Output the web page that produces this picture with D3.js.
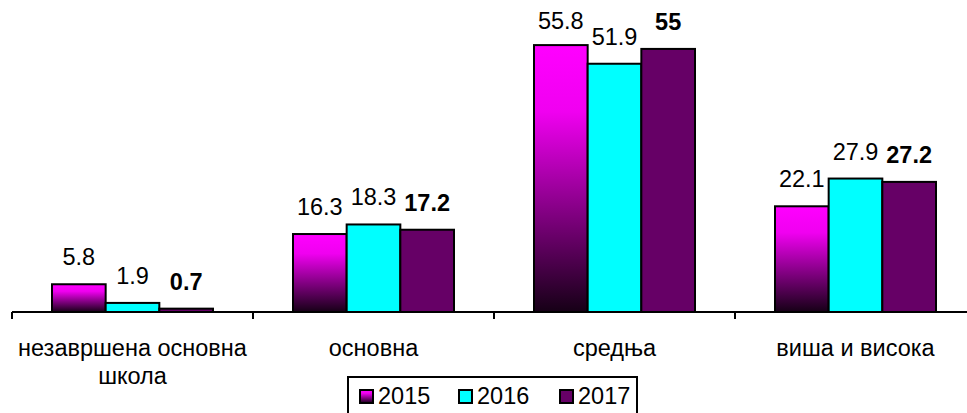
<!DOCTYPE html>
<html>
<head>
<meta charset="utf-8">
<script src="https://cdn.jsdelivr.net/npm/d3@7"></script>
<style>
  html, body { margin: 0; padding: 0; background: #fff; }
  text { font-family: Arial, "Liberation Sans", sans-serif; }
</style>
</head>
<body>
<svg id="chart" width="967" height="413"></svg>
<script>
// податоци
const categories = ['незавршена основна школа', 'основна', 'средња', 'виша и висока'];
const years = ['2015', '2016', '2017'];
const values2015 = [5.8, 16.3, 55.8, 22.1];
const values2016 = [1.9, 18.3, 51.9, 27.9];
const values2017 = [0.7, 17.2, 55, 27.2];

const series = [values2015, values2016, values2017];
const fills = ['url(#grad2015)', '#00ffff', '#660066'];

const svg = d3.select('#chart');
const width = 967, height = 413;
const baseY = 312;
const fontSize = 23.5;

// градиент за 2015
const defs = svg.append('defs');
const grad = defs.append('linearGradient')
    .attr('id', 'grad2015')
    .attr('x1', 0).attr('y1', 0).attr('x2', 0).attr('y2', 1);
grad.append('stop').attr('offset', '0%').attr('stop-color', '#ff00ff');
grad.append('stop').attr('offset', '25%').attr('stop-color', '#f000f0');
grad.append('stop').attr('offset', '100%').attr('stop-color', '#160016');

const x0 = d3.scaleBand()
    .domain(categories)
    .range([12, 976]);

const groupWidth = 161;
const x1 = d3.scaleBand()
    .domain(d3.range(years.length))
    .range([0, groupWidth]);

const y = d3.scaleLinear()
    .domain([0, 60])
    .range([baseY, 25]);

// столбови
const groups = svg.append('g')
    .selectAll('g')
    .data(categories)
    .enter().append('g')
    .attr('transform', d => `translate(${x0(d) + (x0.bandwidth() - groupWidth) / 2},0)`);

groups.selectAll('rect')
    .data((d, i) => series.map((s, j) => ({ v: s[i], j })))
    .enter().append('rect')
    .attr('x', d => x1(d.j))
    .attr('y', d => y(d.v))
    .attr('width', x1.bandwidth())
    .attr('height', d => baseY - y(d.v))
    .attr('fill', d => fills[d.j])
    .attr('stroke', '#000')
    .attr('stroke-width', 2);

groups.selectAll('text.lbl')
    .data((d, i) => series.map((s, j) => ({ v: s[i], j })))
    .enter().append('text')
    .attr('class', 'lbl')
    .attr('x', d => x1(d.j) + x1.bandwidth() / 2)
    .attr('y', d => Math.max(y(d.v) - 19, 29))
    .attr('text-anchor', 'middle')
    .attr('font-size', fontSize)
    .attr('font-weight', d => d.j === 2 ? 'bold' : 'normal')
    .attr('fill', '#000')
    .text(d => d.v);

// x оска
svg.append('line')
    .attr('x1', 12).attr('x2', width)
    .attr('y1', baseY).attr('y2', baseY)
    .attr('stroke', '#000').attr('stroke-width', 2);

svg.append('g')
    .selectAll('line')
    .data(categories)
    .enter().append('line')
    .attr('x1', d => x0(d)).attr('x2', d => x0(d))
    .attr('y1', baseY).attr('y2', baseY + 7)
    .attr('stroke', '#000').attr('stroke-width', 2);

// натписи на категории
const catLines = [['незавршена основна', 'школа'], ['основна'], ['средња'], ['виша и висока']];
svg.append('g')
    .selectAll('text')
    .data(categories)
    .enter().append('text')
    .attr('x', d => x0(d) + x0.bandwidth() / 2)
    .attr('y', 356)
    .attr('text-anchor', 'middle')
    .attr('font-size', fontSize)
    .attr('fill', '#000')
    .each(function(d, i) {
        d3.select(this).selectAll('tspan')
            .data(catLines[i])
            .enter().append('tspan')
            .attr('x', x0(d) + x0.bandwidth() / 2)
            .attr('dy', (t, k) => k === 0 ? 0 : 28)
            .text(t => t);
    });

// легенда
const legend = svg.append('g');
legend.append('rect')
    .attr('x', 348).attr('y', 377)
    .attr('width', 289).attr('height', 44)
    .attr('fill', '#fff')
    .attr('stroke', '#000').attr('stroke-width', 2);

const legendX = [360, 459, 560];
const item = legend.selectAll('g')
    .data(years)
    .enter().append('g')
    .attr('transform', (d, i) => `translate(${legendX[i]},0)`);

item.append('rect')
    .attr('x', 0).attr('y', 390)
    .attr('width', 13).attr('height', 13)
    .attr('fill', (d, i) => fills[i])
    .attr('stroke', '#000').attr('stroke-width', 2);

item.append('text')
    .attr('x', 18).attr('y', 404)
    .attr('font-size', fontSize)
    .attr('fill', '#000')
    .text(d => d);
</script>
</body>
</html>
